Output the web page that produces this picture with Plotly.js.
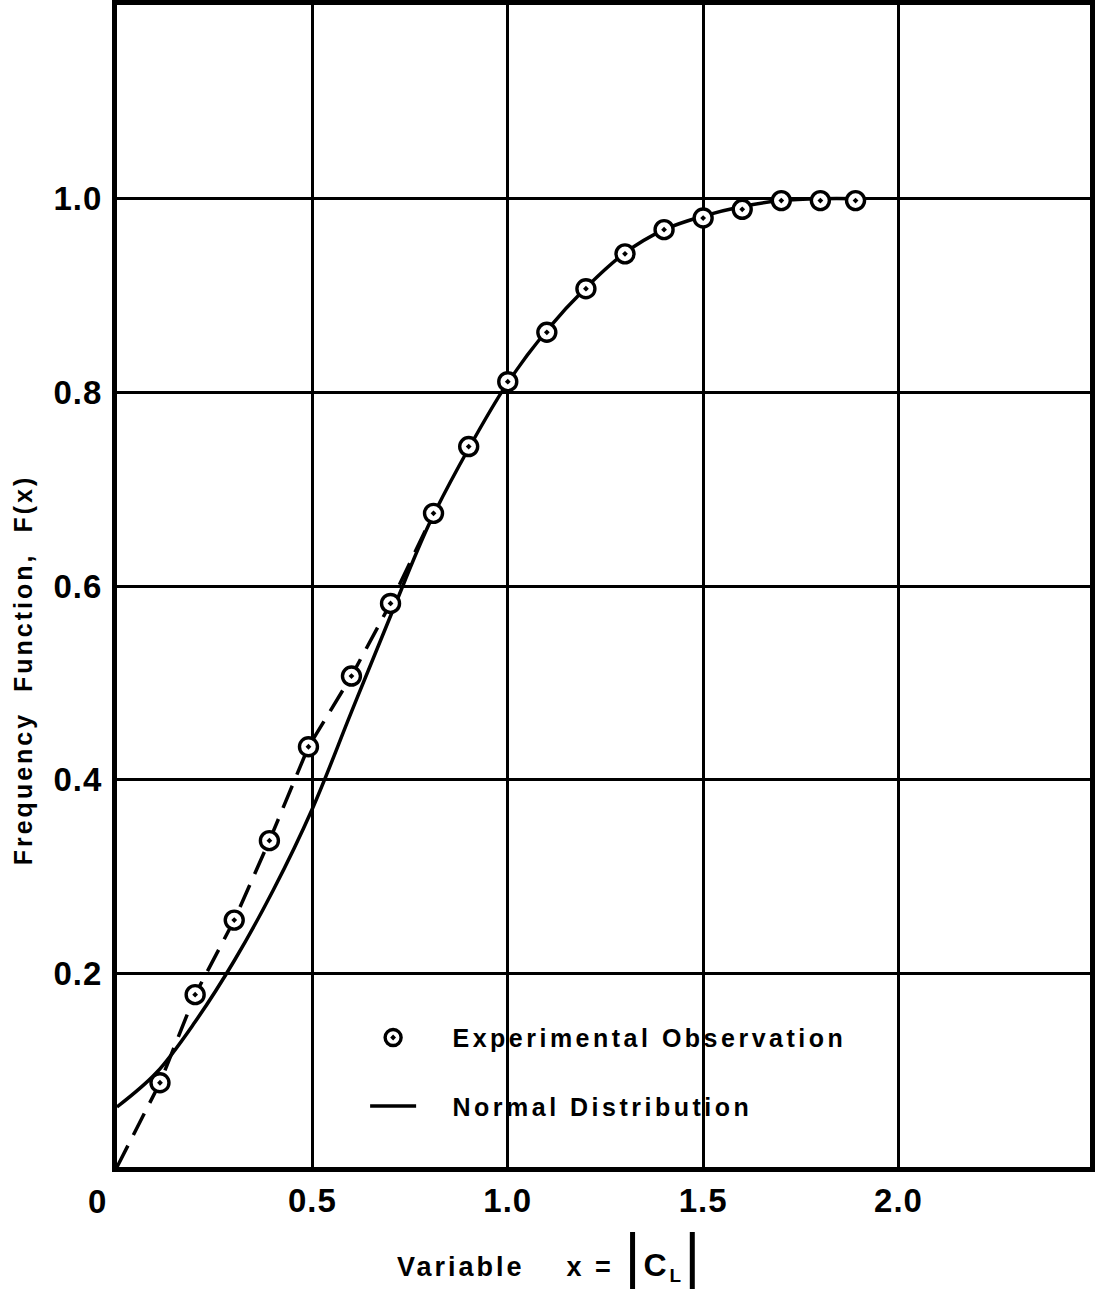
<!DOCTYPE html>
<html>
<head>
<meta charset="utf-8">
<script src="https://cdn.plot.ly/plotly-3.0.1.min.js"></script>
<style>
html,body{margin:0;padding:0;background:#fff;}
#chart{width:1097px;height:1305px;}
.legendtext{letter-spacing:3.5px;}
.annotation-text{letter-spacing:3px;}
.xtick text,.ytick text{letter-spacing:1px;}
</style>
</head>
<body>
<div id="chart"></div>
<script>
// Experimental observations
const obsX = [0.11, 0.2, 0.3, 0.39, 0.49, 0.6, 0.7, 0.81, 0.9, 1.0, 1.1, 1.2, 1.3, 1.4, 1.5, 1.6, 1.7, 1.8, 1.89];
const obsY = [0.087, 0.178, 0.255, 0.337, 0.434, 0.507, 0.582, 0.675, 0.744, 0.811, 0.862, 0.907, 0.943, 0.968, 0.980, 0.989, 0.998, 0.998, 0.998];
// Dashed fit through the lower observations
const dashX = [0, 0.11, 0.2, 0.3, 0.39, 0.49, 0.6, 0.7, 0.81];
const dashY = [0, 0.087, 0.178, 0.255, 0.337, 0.434, 0.507, 0.582, 0.675];
// Normal distribution curve
const normX = [0, 0.1, 0.2, 0.3, 0.4, 0.5, 0.6, 0.7, 0.8, 0.9, 1.0, 1.1, 1.2, 1.3, 1.4, 1.5, 1.6, 1.7, 1.8, 1.9];
const normY = [0.062, 0.097, 0.150, 0.213, 0.286, 0.37, 0.47, 0.569, 0.665, 0.742, 0.81, 0.864, 0.908, 0.944, 0.968, 0.982, 0.992, 0.998, 1.0, 1.0];
// Axis ticks
const xTickVals = [0.5, 1.0, 1.5, 2.0];
const xTickText = ["0.5", "1.0", "1.5", "2.0"];
const yTickVals = [0.2, 0.4, 0.6, 0.8, 1.0];
const yTickText = ["0.2", "0.4", "0.6", "0.8", "1.0"];

const FONT = "Liberation Sans, Arial, sans-serif";
const BAR = "<span style='font-size:62px;font-weight:normal'>|</span>";
const PAD = "\u00a0\u00a0\u00a0";

const traces = [
  {
    x: dashX, y: dashY, mode: "lines", showlegend: false, hoverinfo: "skip",
    line: {color: "black", width: 3.5, dash: "24px,12px"}
  },
  {
    x: normX, y: normY, mode: "lines", name: PAD + "Normal Distribution",
    legendrank: 2, legendgroup: "b",
    line: {color: "black", width: 3.5, shape: "spline"}
  },
  {
    x: obsX, y: obsY, mode: "markers", name: PAD + "Experimental Observation",
    legendrank: 1, legendgroup: "a",
    marker: {symbol: "circle-dot", size: 18, color: "white", line: {color: "black", width: 3.4}}
  }
];

const layout = {
  width: 1097, height: 1305,
  margin: {l: 117, r: 7, t: 5, b: 138},
  paper_bgcolor: "white", plot_bgcolor: "white",
  font: {family: FONT, color: "black"},
  showlegend: true,
  legend: {
    x: 0.255, y: 0.131, xanchor: "left", yanchor: "top",
    traceorder: "grouped", tracegroupgap: 33,
    bgcolor: "rgba(0,0,0,0)",
    font: {family: FONT, size: 25, color: "black", weight: "bold"},
    itemwidth: 46
  },
  xaxis: {
    range: [0, 2.49], tickvals: xTickVals, ticktext: xTickText,
    showgrid: true, gridcolor: "black", gridwidth: 3, zeroline: false,
    showline: true, linecolor: "black", linewidth: 5, mirror: true,
    ticks: "", ticklabelstandoff: 0,
    tickfont: {family: FONT, size: 33, color: "black", weight: "bold"}
  },
  yaxis: {
    range: [0, 1.2], tickvals: yTickVals, ticktext: yTickText,
    showgrid: true, gridcolor: "black", gridwidth: 3, zeroline: false,
    showline: true, linecolor: "black", linewidth: 5, mirror: true,
    ticks: "", ticklabelstandoff: 3,
    tickfont: {family: FONT, size: 33, color: "black", weight: "bold"}
  },
  annotations: [
    {x: 0, y: 0, xref: "x", yref: "y", text: "<b>0</b>", showarrow: false,
     xshift: -19, yshift: -34, font: {family: FONT, size: 33, color: "black"}},
    {x: 0.445, y: -0.075, xref: "paper", yref: "paper", xanchor: "center", yanchor: "middle",
     text: "<b>Variable    x = " + BAR + "<span style='font-size:32px'>C</span><sub>L</sub>" + BAR + "</b>", showarrow: false,
     font: {family: FONT, size: 27, color: "black"}},
    {x: -0.097, y: 0.428, xref: "paper", yref: "paper", xanchor: "center", yanchor: "middle",
     textangle: -90, text: "<b>Frequency  Function,  F(x)</b>", showarrow: false,
     font: {family: FONT, size: 25, color: "black"}}
  ]
};

Plotly.newPlot("chart", traces, layout, {displayModeBar: false, staticPlot: true});
</script>
</body>
</html>
